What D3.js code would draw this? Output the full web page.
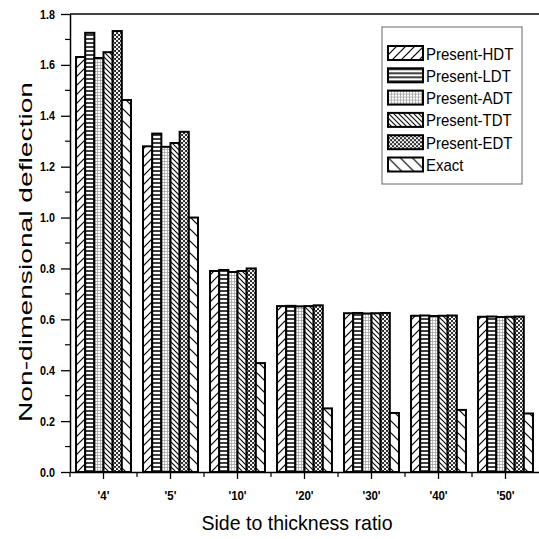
<!DOCTYPE html>
<html lang="en">
<head>
  <meta charset="UTF-8">
  <script src="https://cdn.jsdelivr.net/npm/d3@7"></script>
  <title>Deflection bars</title>
  <style>
    body { margin: 0; background: #fff; }
    text { font-family: "Liberation Sans", Arial, sans-serif; }
  </style>
</head>
<body>
<svg width="539" height="539"></svg>
<script>
  // data
  const ratios = ["'4'", "'5'", "'10'", "'20'", "'30'", "'40'", "'50'"];
  const seriesNames = ["Present-HDT", "Present-LDT", "Present-ADT", "Present-TDT", "Present-EDT", "Exact"];
  const hdt = [1.631, 1.280, 0.790, 0.652, 0.624, 0.614, 0.610];
  const ldt = [1.726, 1.330, 0.794, 0.653, 0.625, 0.615, 0.611];
  const adt = [1.627, 1.278, 0.786, 0.651, 0.623, 0.613, 0.609];
  const tdt = [1.650, 1.293, 0.790, 0.652, 0.624, 0.614, 0.610];
  const edt = [1.733, 1.337, 0.800, 0.655, 0.625, 0.615, 0.611];
  const exact = [1.462, 1.000, 0.428, 0.250, 0.232, 0.244, 0.230];
  const yTicks = [0, 0.2, 0.4, 0.6, 0.8, 1.0, 1.2, 1.4, 1.6, 1.8];

  const allSeries = [hdt, ldt, adt, tdt, edt, exact];

  const svg = d3.select("svg");
  const margin = { left: 70, top: 14, right: 0, bottom: 67 };
  const width = 539, height = 539;
  const innerWidth = width - margin.left - margin.right;
  const innerHeight = height - margin.top - margin.bottom;

  // the original figure is squeezed sideways a bit
  function squeeze(sel, f) {
    sel.each(function () {
      const w = this.getComputedTextLength();
      d3.select(this).attr("textLength", w * f).attr("lengthAdjust", "spacingAndGlyphs");
    });
  }

  // hatch patterns
  const defs = svg.append("defs");
  const pat = (id, w, h) => defs.append("pattern")
    .attr("id", id).attr("patternUnits", "userSpaceOnUse")
    .attr("width", w).attr("height", h);

  let p = pat("p-hdt", 9, 9);
  p.append("rect").attr("width", 9).attr("height", 9).attr("fill", "#fff");
  p.append("path").attr("d", "M0,9 L9,0 M-2,2 L2,-2 M7,11 L11,7").attr("stroke", "#000").attr("stroke-width", 1.2);

  p = pat("p-ldt", 4, 4);
  p.append("rect").attr("width", 4).attr("height", 4).attr("fill", "#fff");
  p.append("path").attr("d", "M0,1 L4,1").attr("stroke", "#000").attr("stroke-width", 1.5);

  p = pat("p-adt", 3, 3);
  p.append("rect").attr("width", 3).attr("height", 3).attr("fill", "#fff");
  p.append("path").attr("d", "M0,0.5 L3,0.5 M0.5,0 L0.5,3").attr("stroke", "#999").attr("stroke-width", 0.7);

  p = pat("p-tdt", 5, 5);
  p.append("rect").attr("width", 5).attr("height", 5).attr("fill", "#fff");
  p.append("path").attr("d", "M0,0 L5,5 M-1,4 L1,6 M4,-1 L6,1").attr("stroke", "#000").attr("stroke-width", 1.1);

  p = pat("p-edt", 4, 4);
  p.append("rect").attr("width", 4).attr("height", 4).attr("fill", "#222");
  p.append("circle").attr("cx", 1).attr("cy", 1).attr("r", 1.15).attr("fill", "#fff");
  p.append("circle").attr("cx", 3).attr("cy", 3).attr("r", 1.15).attr("fill", "#fff");

  p = pat("p-exact", 12, 12);
  p.append("rect").attr("width", 12).attr("height", 12).attr("fill", "#fff");
  p.append("path").attr("d", "M0,0 L12,12 M-2,10 L2,14 M10,-2 L14,2").attr("stroke", "#000").attr("stroke-width", 1.2);

  const fills = ["url(#p-hdt)", "url(#p-ldt)", "url(#p-adt)", "url(#p-tdt)", "url(#p-edt)", "url(#p-exact)"];

  const chart = svg.append("g")
    .attr("transform", "translate(" + margin.left + "," + margin.top + ")");

  const x0 = d3.scaleBand().domain(ratios).range([0, innerWidth]).paddingInner(0.18).paddingOuter(0.09);
  const x1 = d3.scaleBand().domain(seriesNames).range([0, x0.bandwidth()]);
  const y = d3.scaleLinear().domain([0, 1.8]).range([innerHeight, 0]);

  // bars
  const groups = chart.selectAll(".grp")
    .data(ratios)
    .join("g")
    .attr("class", "grp")
    .attr("transform", d => "translate(" + x0(d) + ",0)");

  groups.selectAll("rect")
    .data((d, i) => seriesNames.map((s, k) => ({ s, k, v: allSeries[k][i] })))
    .join("rect")
    .attr("x", d => x1(d.s))
    .attr("y", d => y(d.v))
    .attr("width", x1.bandwidth())
    .attr("height", d => innerHeight - y(d.v))
    .attr("fill", d => fills[d.k])
    .attr("stroke", "#000")
    .attr("stroke-width", 2);

  // frame top line
  chart.append("line")
    .attr("x1", 0).attr("x2", innerWidth)
    .attr("y1", 0).attr("y2", 0)
    .attr("stroke", "#000").attr("stroke-width", 1.5);

  // y axis
  const yAxis = chart.append("g")
    .call(d3.axisLeft(y).tickValues(yTicks).tickFormat(d3.format(".1f")).tickSize(9).tickPadding(6).tickSizeOuter(0));
  yAxis.select(".domain").attr("stroke-width", 1.5);
  yAxis.selectAll(".tick line").attr("stroke-width", 1.3);
  yAxis.selectAll("text").attr("font-size", 12.5).attr("font-weight", "bold").attr("fill", "#000");
  squeeze(yAxis.selectAll("text"), 0.86);
  chart.append("g")
    .selectAll("line")
    .data(d3.range(0.1, 1.8, 0.2))
    .join("line")
    .attr("x1", -5).attr("x2", 0)
    .attr("y1", d => y(d)).attr("y2", d => y(d))
    .attr("stroke", "#000").attr("stroke-width", 1.2);

  // x axis
  const xAxis = chart.append("g")
    .attr("transform", "translate(0," + innerHeight + ")")
    .call(d3.axisBottom(x0).tickSize(7).tickSizeOuter(0));
  xAxis.select(".domain").attr("stroke-width", 1.5);
  xAxis.selectAll(".tick line").attr("stroke-width", 1.3);
  xAxis.selectAll("text").attr("font-size", 13).attr("font-weight", "bold").attr("fill", "#000").attr("dy", "1.35em");
  squeeze(xAxis.selectAll("text"), 0.88);
  chart.append("g")
    .selectAll("line")
    .data(ratios)
    .join("line")
    .attr("x1", d => x0(d) - x0.step() * x0.paddingInner() / 2)
    .attr("x2", d => x0(d) - x0.step() * x0.paddingInner() / 2)
    .attr("y1", innerHeight).attr("y2", innerHeight + 5)
    .attr("stroke", "#000").attr("stroke-width", 1.2);

  // axis titles
  svg.append("text")
    .attr("x", 297).attr("y", 530)
    .attr("text-anchor", "middle")
    .attr("font-size", 21)
    .attr("textLength", 191).attr("lengthAdjust", "spacingAndGlyphs")
    .text("Side to thickness ratio");

  svg.append("text")
    .attr("transform", "translate(32,252) rotate(-90)")
    .attr("text-anchor", "middle")
    .attr("font-size", 19)
    .attr("textLength", 340).attr("lengthAdjust", "spacingAndGlyphs")
    .text("Non-dimensional deflection");

  // legend
  const legend = svg.append("g").attr("transform", "translate(382,27)");
  legend.append("rect")
    .attr("width", 140).attr("height", 157)
    .attr("fill", "#fff").attr("stroke", "#666").attr("stroke-width", 1);

  const items = legend.selectAll(".legend-item")
    .data(seriesNames)
    .join("g")
    .attr("class", "legend-item")
    .attr("transform", (d, i) => "translate(6," + (19 + i * 22.3) + ")");

  items.append("rect")
    .attr("width", 35).attr("height", 14)
    .attr("fill", (d, i) => fills[i])
    .attr("stroke", "#000").attr("stroke-width", 2);

  const legendText = items.append("text")
    .attr("x", 38).attr("y", 13.5)
    .attr("font-size", 17)
    .attr("fill", "#000")
    .text(d => d);
  squeeze(legendText, 0.88);
</script>
</body>
</html>
